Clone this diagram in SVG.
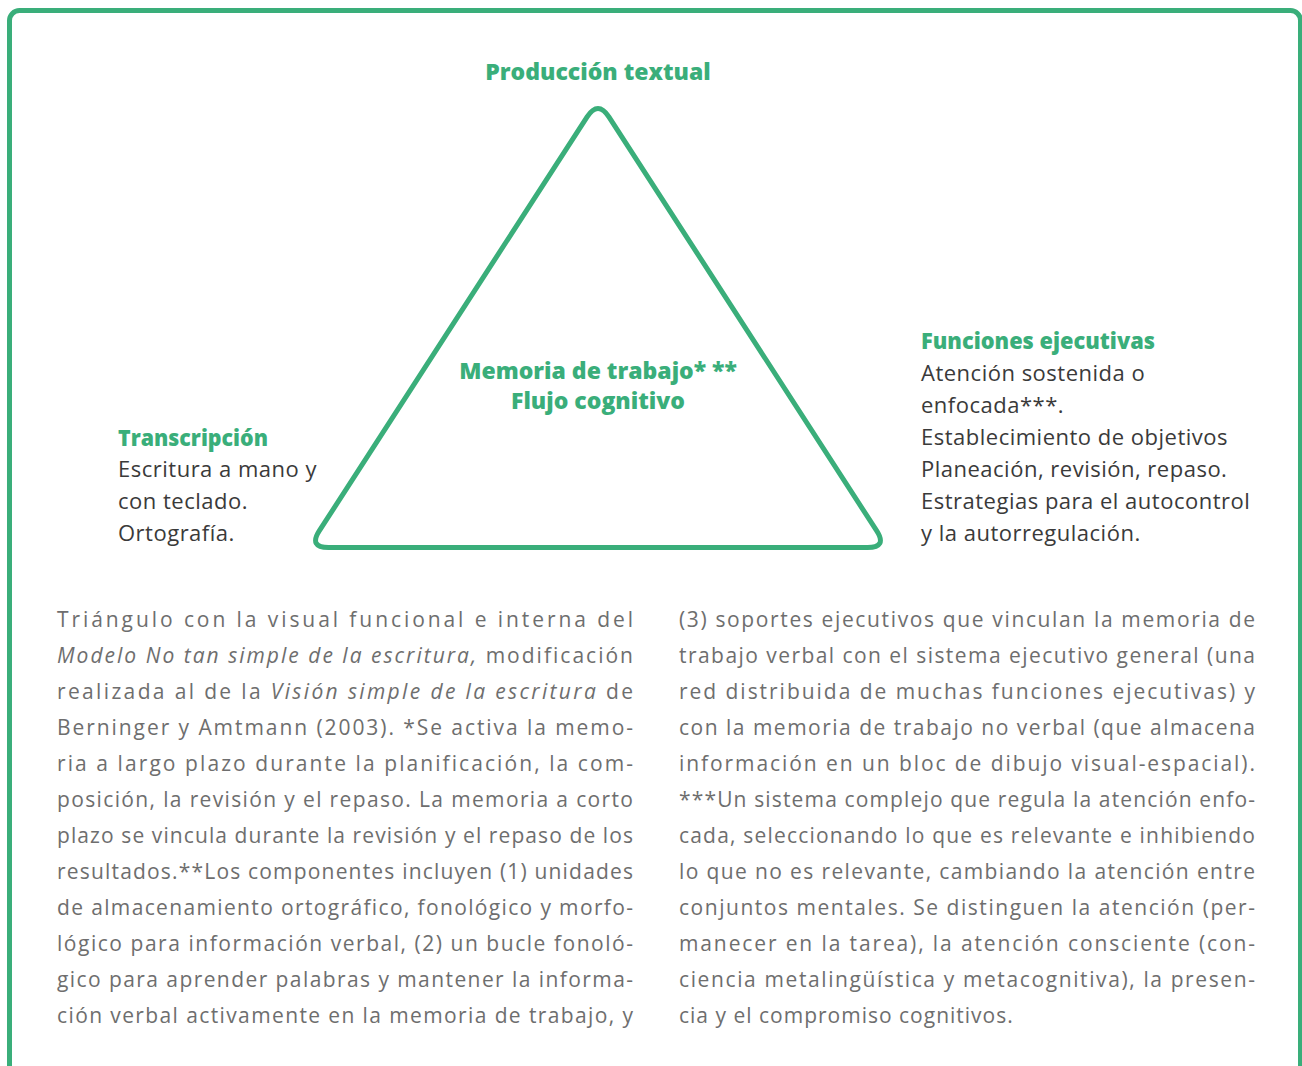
<svg xmlns="http://www.w3.org/2000/svg" width="1302" height="1066" viewBox="0 0 1302 1066">
<style>
.frame{fill:none;stroke:#3aae7a;stroke-width:5}
.tri{fill:none;stroke:#3aae7a;stroke-width:5;stroke-linejoin:round}
.h{font-family:"Open Sans",Lato,sans-serif;font-weight:800;font-size:23px;fill:#3aae7a}
.lbl{font-family:"Open Sans",Lato,sans-serif;font-size:22px;letter-spacing:0.5px;fill:#3a3a3a}
.body{font-family:"Open Sans",Lato,sans-serif;font-size:21px;letter-spacing:1px;fill:#6e6e6e}
.it{font-style:italic}
</style>
<rect class="frame" x="9.5" y="10.5" width="1291" height="1100" rx="10"/>
<g id="connectors">
<path class="tri" d="M587.1,116.8 Q598,100 608.9,116.8 L876.6,530.7 Q887.5,547.5 867.5,547.5 L328.5,547.5 Q308.5,547.5 319.4,530.7 Z"/>
</g>
<g id="node-produccion">
<text class="h" x="598" y="80" text-anchor="middle">Producción textual</text>
</g>
<g id="node-memoria">
<text class="h" x="598" y="379" text-anchor="middle">Memoria de trabajo* **</text>
<text class="h" x="598" y="409" text-anchor="middle">Flujo cognitivo</text>
</g>
<g id="node-transcripcion">
<text class="h" x="118" y="446" textLength="150" lengthAdjust="spacingAndGlyphs">Transcripción</text>
<text class="lbl" x="118" y="477">Escritura a mano y</text>
<text class="lbl" x="118" y="509">con teclado.</text>
<text class="lbl" x="118" y="541">Ortografía.</text>
</g>
<g id="node-funciones">
<text class="h" x="921" y="349" textLength="234" lengthAdjust="spacingAndGlyphs">Funciones ejecutivas</text>
<text class="lbl" x="921" y="381">Atención sostenida o</text>
<text class="lbl" x="921" y="413">enfocada***.</text>
<text class="lbl" x="921" y="445">Establecimiento de objetivos</text>
<text class="lbl" x="921" y="477">Planeación, revisión, repaso.</text>
<text class="lbl" x="921" y="509">Estrategias para el autocontrol</text>
<text class="lbl" x="921" y="541">y la autorregulación.</text>
</g>
<g id="caption-left" class="body">
<text x="57" y="627" textLength="577" lengthAdjust="spacing">Triángulo con la visual funcional e interna del</text>
<text x="57" y="663" textLength="577" lengthAdjust="spacing"><tspan class="it">Modelo No tan simple de la escritura,</tspan> modificación</text>
<text x="57" y="699" textLength="577" lengthAdjust="spacing">realizada al de la <tspan class="it">Visión simple de la escritura</tspan> de</text>
<text x="57" y="735" textLength="577" lengthAdjust="spacing">Berninger y Amtmann (2003). *Se activa la memo-</text>
<text x="57" y="771" textLength="577" lengthAdjust="spacing">ria a largo plazo durante la planificación, la com-</text>
<text x="57" y="807" textLength="577" lengthAdjust="spacing">posición, la revisión y el repaso. La memoria a corto</text>
<text x="57" y="843" textLength="577" lengthAdjust="spacing">plazo se vincula durante la revisión y el repaso de los</text>
<text x="57" y="879" textLength="577" lengthAdjust="spacing">resultados.**Los componentes incluyen (1) unidades</text>
<text x="57" y="915" textLength="577" lengthAdjust="spacing">de almacenamiento ortográfico, fonológico y morfo-</text>
<text x="57" y="951" textLength="577" lengthAdjust="spacing">lógico para información verbal, (2) un bucle fonoló-</text>
<text x="57" y="987" textLength="577" lengthAdjust="spacing">gico para aprender palabras y mantener la informa-</text>
<text x="57" y="1023" textLength="577" lengthAdjust="spacing">ción verbal activamente en la memoria de trabajo, y</text>
</g>
<g id="caption-right" class="body">
<text x="679" y="627" textLength="577" lengthAdjust="spacing">(3) soportes ejecutivos que vinculan la memoria de</text>
<text x="679" y="663" textLength="577" lengthAdjust="spacing">trabajo verbal con el sistema ejecutivo general (una</text>
<text x="679" y="699" textLength="577" lengthAdjust="spacing">red distribuida de muchas funciones ejecutivas) y</text>
<text x="679" y="735" textLength="577" lengthAdjust="spacing">con la memoria de trabajo no verbal (que almacena</text>
<text x="679" y="771" textLength="577" lengthAdjust="spacing">información en un bloc de dibujo visual-espacial).</text>
<text x="679" y="807" textLength="577" lengthAdjust="spacing">***Un sistema complejo que regula la atención enfo-</text>
<text x="679" y="843" textLength="577" lengthAdjust="spacing">cada, seleccionando lo que es relevante e inhibiendo</text>
<text x="679" y="879" textLength="577" lengthAdjust="spacing">lo que no es relevante, cambiando la atención entre</text>
<text x="679" y="915" textLength="577" lengthAdjust="spacing">conjuntos mentales. Se distinguen la atención (per-</text>
<text x="679" y="951" textLength="577" lengthAdjust="spacing">manecer en la tarea), la atención consciente (con-</text>
<text x="679" y="987" textLength="577" lengthAdjust="spacing">ciencia metalingüística y metacognitiva), la presen-</text>
<text x="679" y="1023">cia y el compromiso cognitivos.</text>
</g>
</svg>
